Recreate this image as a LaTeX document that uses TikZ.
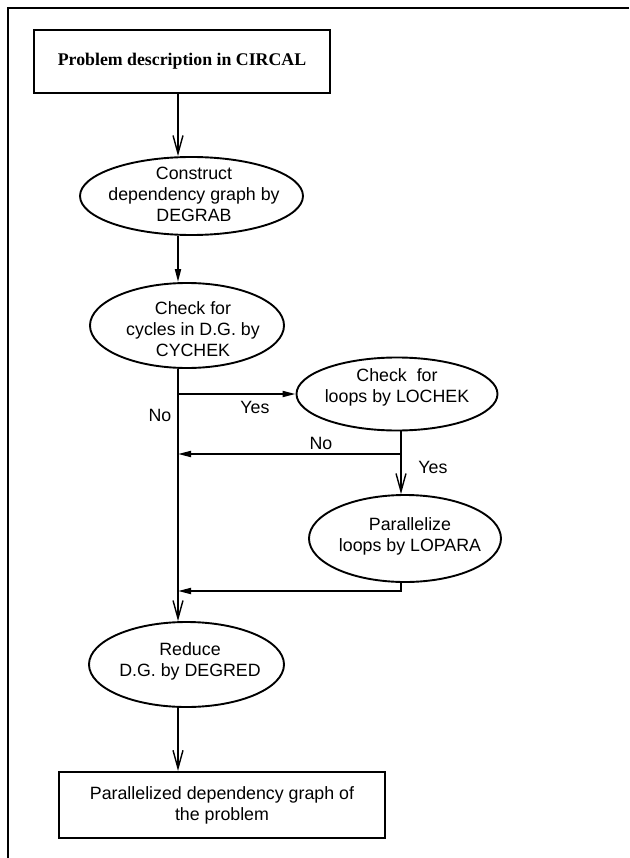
\documentclass[tikz,border=0pt]{standalone}
\usepackage{fontspec}
\setmainfont{Liberation Sans}
\newfontfamily\titlefont{Liberation Serif}
\usetikzlibrary{shapes.geometric,arrows.meta}

\begin{document}
\begin{tikzpicture}[x=1pt, y=-1pt, font=\fontsize{17.8}{21}\selectfont, line width=1.8pt,
  proc/.style={draw, ellipse, inner sep=0pt, line width=1.9pt},
  txt/.style={align=center, inner sep=0pt},
  io/.style={draw, rectangle, align=center, inner sep=0pt, line width=2.2pt},
  vee/.style={-{Straight Barb[length=18pt,width=10pt,line width=1.4pt]}},
  tri/.style={-{Triangle[length=13pt,width=6pt]}}]
  \useasboundingbox (0,0) rectangle (629,858);
  \draw[line width=2.8pt] (629,8) -- (8,8) -- (8,858);

  \coordinate (spine) at (178,0);
  \coordinate (col) at (401,0);

  \node[io, minimum width=296pt, minimum height=63pt,
        font=\titlefont\bfseries\fontsize{17.8}{21}\selectfont] (prob) at (182,61.5) {Problem description in CIRCAL};

  \node[proc, minimum width=223pt, minimum height=78pt] (grab) at (191.5,196) {};
  \node[txt] (grabtxt) at (194,194) {Construct\\dependency graph by\\DEGRAB};

  \node[proc, minimum width=194pt, minimum height=85pt] (cyc) at (187,325.5) {};
  \node[txt] (cyctxt) at (193,329) {Check for\\cycles in D.G. by\\CYCHEK};

  \node[proc, minimum width=201pt, minimum height=73pt] (loc) at (397,394) {};
  \node[txt] (loctxt) at (397,387) {Check\ \ for\\loops by LOCHEK};

  \node[proc, minimum width=192pt, minimum height=87pt] (lop) at (405,538.5) {};
  \node[txt] (loptxt) at (410,536) {Parallelize\\loops by LOPARA};

  \node[proc, minimum width=195pt, minimum height=85pt] (red) at (186.5,664.5) {};
  \node[txt] (redtxt) at (190,661) {Reduce\\D.G. by DEGRED};

  \node[io, minimum width=326pt, minimum height=66pt] (out) at (222,805) {Parallelized dependency graph of\\the problem};

  \coordinate (nojoin) at (401,454);
  \coordinate (back) at (401,591);

  \draw[vee] (prob.south -| spine) -- (grab.north -| spine);
  \draw[tri] (grab.south -| spine) -- (cyc.north -| spine);
  \draw[vee] (cyc.south -| spine) -- (red.north -| spine);
  \draw[tri] (spine |- loc.west) -- (loc.west);
  \draw[vee] (loc.south -| col) -- (lop.north -| col);
  \draw[tri] (nojoin) -- (nojoin -| spine);
  \draw[tri] (lop.south -| col) -- (back) -- (back -| spine);
  \draw[vee] (red.south -| spine) -- (out.north -| spine);

  \node (yes1) at (255,407) {Yes};
  \node (no1) at (160,415) {No};
  \node (no2) at (321,443) {No};
  \node (yes2) at (433,467) {Yes};
\end{tikzpicture}
\end{document}
